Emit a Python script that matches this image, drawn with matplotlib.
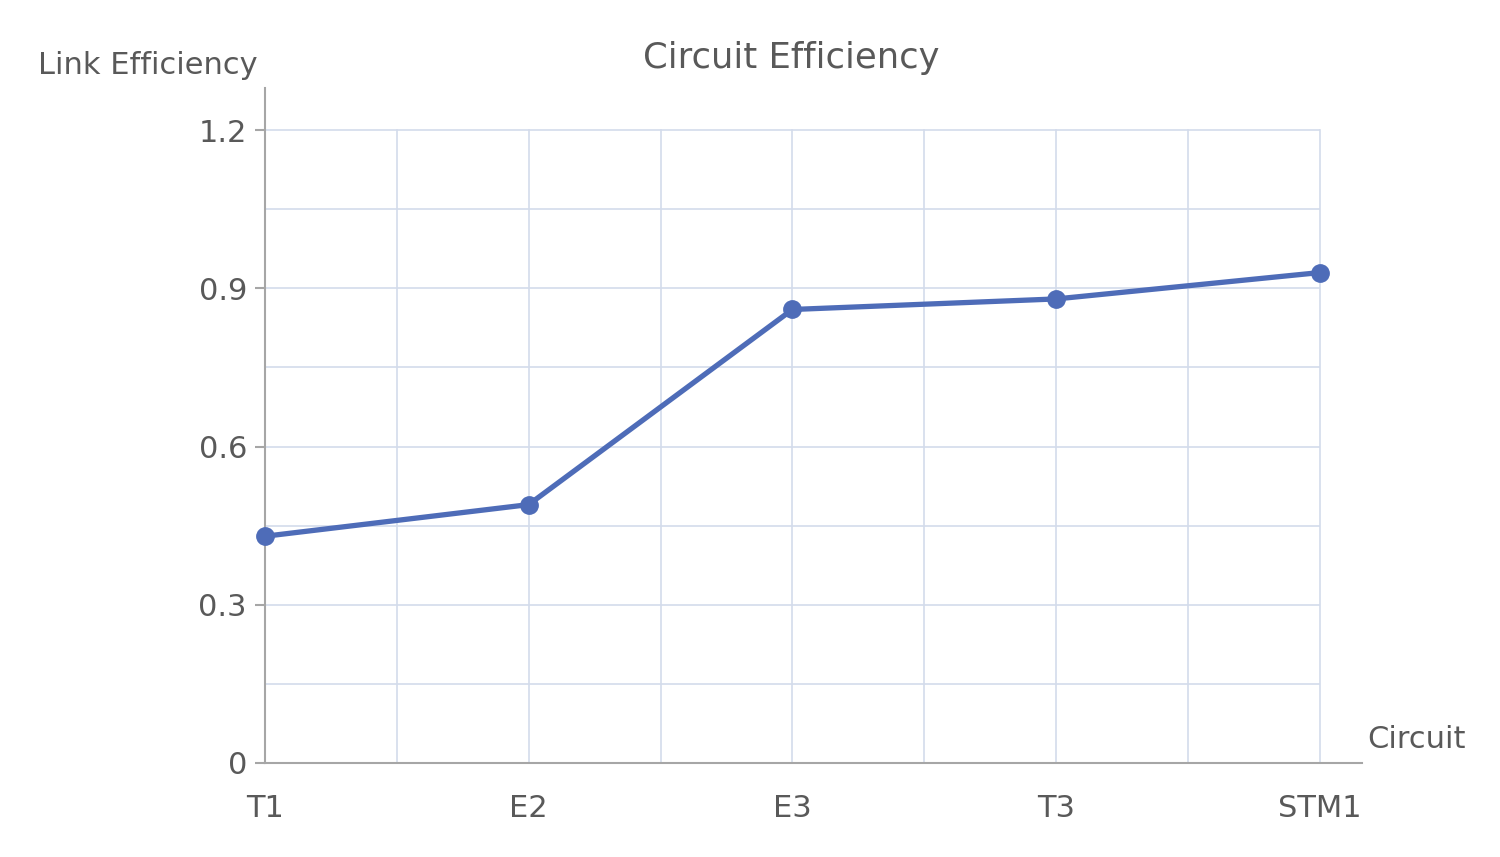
import matplotlib
matplotlib.use("Agg")
import matplotlib.pyplot as plt

# Circuit types and link efficiency
circuits = ['T1', 'E2', 'E3', 'T3', 'STM1']
efficiency = [0.43, 0.49, 0.86, 0.88, 0.93]
yticks = [0, 0.3, 0.6, 0.9, 1.2]

text_color = '#595959'
grid_color = '#d3dbeb'
line_color = '#4e6cb8'

plt.rcParams['font.family'] = ['DejaVu Sans']

fig = plt.figure(figsize=(15, 8.57), dpi=100)
ax = fig.add_axes([265 / 1500, 1 - 763 / 857, (1362 - 265) / 1500, (763 - 88) / 857])

x = list(range(len(circuits)))

# grid limited to the data area
for i in range(1, 2 * (len(circuits) - 1) + 1):
    ax.axvline(i / 2, ymin=0, ymax=1.2 / 1.28, color=grid_color, lw=1.2, zorder=0)
for k in range(1, 9):
    ax.hlines(k * 0.15, 0, len(circuits) - 1, color=grid_color, lw=1.2, zorder=0)

ax.plot(x, efficiency, color=line_color, lw=3.8, marker='o', markersize=12.5,
        solid_capstyle='round', zorder=3, clip_on=False)

ax.set_xlim(0, 4.16)
ax.set_ylim(0, 1.28)
ax.set_xticks(x)
ax.set_xticklabels(circuits)
ax.set_yticks(yticks)
ax.set_yticklabels(['0', '0.3', '0.6', '0.9', '1.2'])

for s in ['top', 'right']:
    ax.spines[s].set_visible(False)
for s in ['left', 'bottom']:
    ax.spines[s].set_color('#a6a6a6')
    ax.spines[s].set_linewidth(1.5)

ax.tick_params(axis='x', length=0, pad=22, labelsize=22, labelcolor=text_color)
ax.tick_params(axis='y', length=7, width=1.5, color='#a6a6a6', pad=6,
               labelsize=22, labelcolor=text_color)

fig.text(791 / 1500, 1 - 58 / 857, 'Circuit Efficiency', ha='center', va='center',
         fontsize=25.5, color=text_color)
fig.text(38 / 1500, 1 - 66 / 857, 'Link Efficiency', ha='left', va='center',
         fontsize=22, color=text_color)
fig.text(1367 / 1500, 1 - 740 / 857, 'Circuit', ha='left', va='center',
         fontsize=22, color=text_color)

fig.savefig('out.png', dpi=100, facecolor='white')
